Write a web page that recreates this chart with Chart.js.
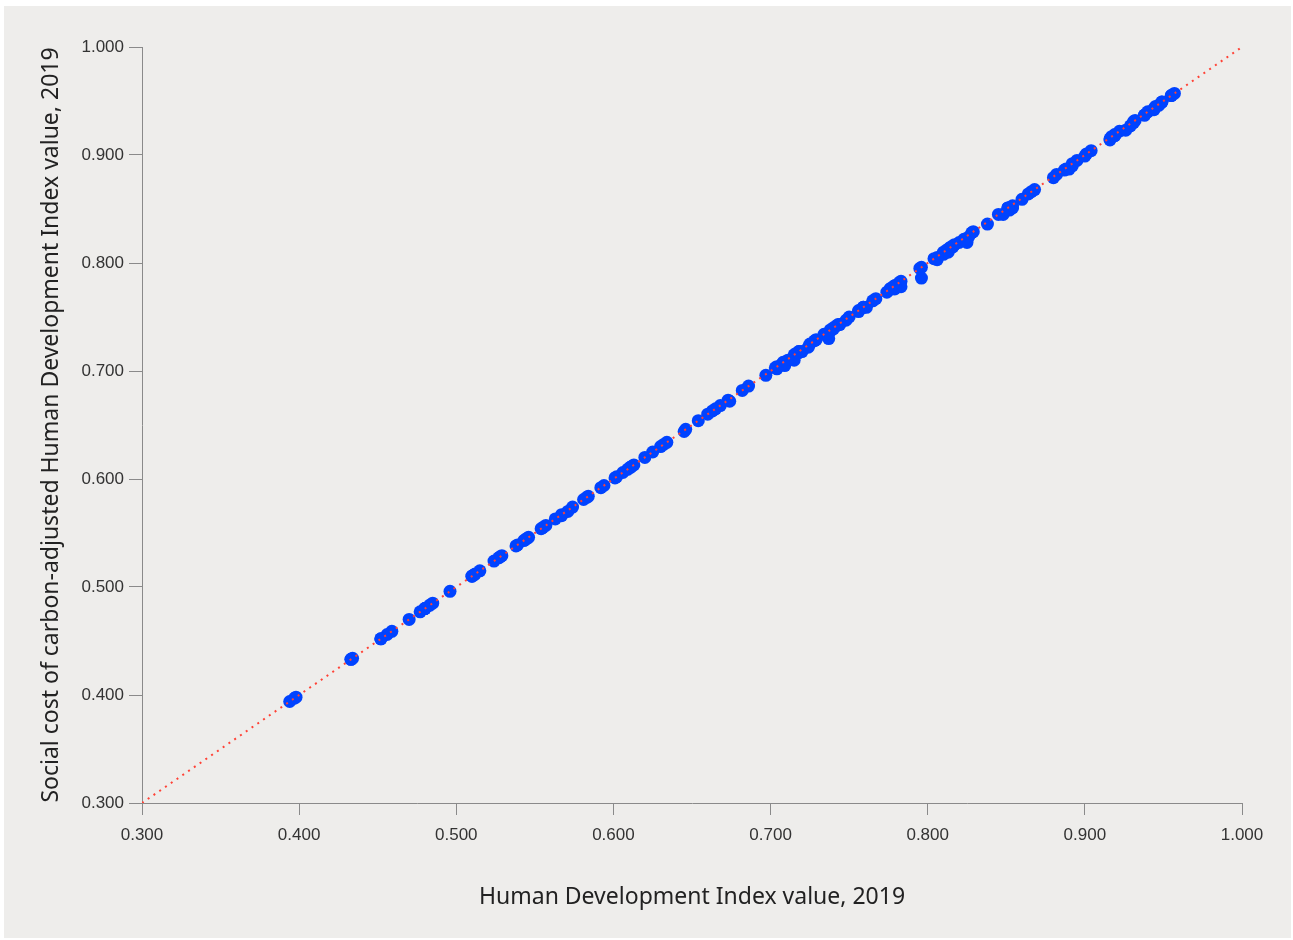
<!DOCTYPE html>
<html>
<head>
<meta charset="utf-8">
<script src="https://cdn.jsdelivr.net/npm/chart.js@4"></script>
<style>
  body { margin: 0; background: #ffffff; }
  #panel { position: absolute; left: 4px; top: 6px; width: 1287px; height: 932px; background: #eeedeb; }
  canvas { display: block; }
</style>
</head>
<body>
<div id="panel"><canvas id="myChart" width="1287" height="932"></canvas></div>
<script>
const countries = ["Norway","Ireland","Switzerland","Hong Kong, China (SAR)","Iceland","Germany","Sweden","Australia","Netherlands","Denmark",
  "Finland","Singapore","United Kingdom","Belgium","New Zealand","Canada","United States","Austria","Israel","Japan",
  "Liechtenstein","Slovenia","Korea (Republic of)","Luxembourg","Spain","France","Czechia","Malta","Estonia","Italy",
  "United Arab Emirates","Greece","Cyprus","Lithuania","Poland","Andorra","Latvia","Portugal","Slovakia","Hungary",
  "Saudi Arabia","Bahrain","Chile","Croatia","Qatar","Argentina","Brunei Darussalam","Montenegro","Romania","Palau",
  "Kazakhstan","Russian Federation","Belarus","Turkey","Uruguay","Bulgaria","Panama","Bahamas","Barbados","Oman",
  "Georgia","Costa Rica","Malaysia","Kuwait","Serbia","Mauritius","Seychelles","Trinidad and Tobago","Albania","Cuba",
  "Iran (Islamic Republic of)","Sri Lanka","Bosnia and Herzegovina","Grenada","Mexico","Saint Kitts and Nevis","Ukraine","Antigua and Barbuda","Peru","Thailand",
  "Armenia","North Macedonia","Colombia","Brazil","China","Ecuador","Saint Lucia","Azerbaijan","Dominican Republic","Moldova (Republic of)",
  "Algeria","Lebanon","Fiji","Dominica","Maldives","Tunisia","Saint Vincent and the Grenadines","Suriname","Mongolia","Botswana",
  "Jamaica","Jordan","Paraguay","Tonga","Libya","Uzbekistan","Bolivia (Plurinational State of)","Indonesia","Philippines","Belize",
  "Samoa","Turkmenistan","Venezuela (Bolivarian Republic of)","South Africa","Palestine, State of","Egypt","Marshall Islands","Viet Nam","Gabon","Kyrgyzstan",
  "Morocco","Guyana","Iraq","El Salvador","Tajikistan","Cabo Verde","Guatemala","Nicaragua","Bhutan","Namibia",
  "India","Honduras","Bangladesh","Kiribati","Sao Tome and Principe","Micronesia (Federated States of)","Lao People's Democratic Republic","Eswatini (Kingdom of)","Ghana","Vanuatu",
  "Timor-Leste","Nepal","Kenya","Cambodia","Equatorial Guinea","Zambia","Myanmar","Angola","Congo","Zimbabwe",
  "Solomon Islands","Syrian Arab Republic","Cameroon","Pakistan","Papua New Guinea","Comoros","Mauritania","Benin","Uganda","Rwanda",
  "Nigeria","Côte d'Ivoire","Tanzania (United Republic of)","Madagascar","Lesotho","Djibouti","Togo","Senegal","Afghanistan","Haiti",
  "Sudan","Gambia","Ethiopia","Malawi","Congo (Democratic Republic of the)","Guinea-Bissau","Liberia","Guinea","Yemen","Eritrea",
  "Mozambique","Burkina Faso","Sierra Leone","Mali","Burundi","South Sudan","Chad","Central African Republic","Niger"];

const hdiValues = [0.957,0.955,0.955,0.949,0.949,0.947,0.945,0.944,0.944,0.940,
  0.938,0.938,0.932,0.931,0.931,0.929,0.926,0.922,0.919,0.919,
  0.919,0.917,0.916,0.916,0.904,0.901,0.900,0.895,0.892,0.892,
  0.890,0.888,0.887,0.882,0.880,0.868,0.866,0.864,0.860,0.854,
  0.854,0.852,0.851,0.851,0.848,0.845,0.838,0.829,0.828,0.826,
  0.825,0.824,0.823,0.820,0.817,0.816,0.815,0.814,0.814,0.813,
  0.812,0.810,0.810,0.806,0.806,0.804,0.796,0.796,0.795,0.783,
  0.783,0.782,0.780,0.779,0.779,0.779,0.779,0.778,0.777,0.777,
  0.776,0.774,0.767,0.765,0.761,0.759,0.759,0.756,0.756,0.750,
  0.748,0.744,0.743,0.742,0.740,0.740,0.738,0.738,0.737,0.735,
  0.734,0.729,0.728,0.725,0.724,0.720,0.718,0.718,0.718,0.716,
  0.715,0.715,0.711,0.709,0.708,0.707,0.704,0.704,0.703,0.697,
  0.686,0.682,0.674,0.673,0.668,0.665,0.663,0.660,0.654,0.646,
  0.645,0.634,0.632,0.630,0.625,0.620,0.613,0.611,0.611,0.609,
  0.606,0.602,0.601,0.594,0.592,0.584,0.583,0.581,0.574,0.571,
  0.567,0.567,0.563,0.557,0.555,0.554,0.546,0.545,0.544,0.543,
  0.539,0.538,0.529,0.528,0.527,0.524,0.515,0.512,0.511,0.510,
  0.510,0.496,0.485,0.483,0.480,0.480,0.480,0.477,0.470,0.459,
  0.456,0.452,0.452,0.434,0.433,0.433,0.398,0.397,0.394];

const adjustedValues = [0.957,0.955,0.955,0.949,0.949,0.946,0.945,0.942,0.943,0.940,
  0.937,0.937,0.932,0.930,0.931,0.927,0.923,0.922,0.918,0.918,
  0.919,0.917,0.915,0.914,0.904,0.901,0.899,0.895,0.890,0.892,
  0.887,0.887,0.886,0.882,0.879,0.868,0.866,0.864,0.859,0.853,
  0.851,0.849,0.851,0.851,0.845,0.845,0.836,0.829,0.828,0.824,
  0.819,0.821,0.822,0.819,0.817,0.815,0.815,0.813,0.814,0.810,
  0.812,0.810,0.808,0.803,0.805,0.804,0.796,0.786,0.795,0.783,
  0.778,0.782,0.778,0.779,0.778,0.779,0.776,0.777,0.777,0.776,
  0.776,0.773,0.767,0.765,0.759,0.759,0.759,0.755,0.756,0.750,
  0.747,0.743,0.743,0.742,0.740,0.739,0.738,0.737,0.730,0.734,
  0.734,0.729,0.728,0.725,0.722,0.718,0.718,0.717,0.718,0.716,
  0.715,0.710,0.710,0.705,0.708,0.706,0.704,0.702,0.703,0.696,
  0.686,0.682,0.672,0.673,0.668,0.665,0.663,0.660,0.654,0.646,
  0.644,0.634,0.632,0.630,0.625,0.620,0.613,0.611,0.611,0.609,
  0.606,0.602,0.601,0.594,0.592,0.584,0.583,0.581,0.574,0.570,
  0.567,0.566,0.563,0.557,0.555,0.554,0.546,0.545,0.544,0.543,
  0.539,0.538,0.529,0.528,0.527,0.524,0.515,0.512,0.511,0.510,
  0.510,0.496,0.485,0.483,0.480,0.480,0.480,0.477,0.470,0.459,
  0.456,0.452,0.452,0.434,0.433,0.433,0.398,0.397,0.394];

// 45 degree reference line
const equalityLine = [0.3, 1.0];
const axisTicks = [0.3, 0.4, 0.5, 0.6, 0.7, 0.8, 0.9, 1.0];

const ctx = document.getElementById('myChart');

const points = hdiValues.map((x, i) => ({ x: x, y: adjustedValues[i], name: countries[i] }));

const tickFont = { family: "'Liberation Sans', Arial, sans-serif", size: 17 };
const titleFont = { family: "'Noto Sans', sans-serif", size: 23 };

function setTicks(scale) {
  scale.ticks = axisTicks.map(v => ({ value: v }));
}

new Chart(ctx, {
  data: {
    datasets: [{
      type: 'line',
      label: 'Equality',
      data: equalityLine.map(v => ({ x: v, y: v })),
      borderColor: '#ff4236',
      borderWidth: 2,
      borderDash: [2, 5],
      pointRadius: 0,
      fill: false,
      order: 0
    }, {
      type: 'scatter',
      label: 'Countries',
      data: points,
      backgroundColor: '#0043ff',
      borderWidth: 0,
      pointRadius: 6.5,
      pointHoverRadius: 7,
      order: 1
    }]
  },
  options: {
    responsive: false,
    animation: false,
    layout: { padding: { left: 0, top: 41, right: 49, bottom: 0 } },
    plugins: {
      legend: { display: false },
      tooltip: {
        callbacks: {
          label: c => (c.raw.name ? c.raw.name + ': ' : '') + c.raw.x.toFixed(3) + ', ' + c.raw.y.toFixed(3)
        }
      }
    },
    scales: {
      x: {
        type: 'linear',
        min: 0.3,
        max: 1.0,
        afterBuildTicks: setTicks,
        afterFit: s => { s.height = 135; },
        border: { display: true, color: '#8a8a8a', width: 1 },
        grid: { display: true, drawOnChartArea: false, drawTicks: true, tickLength: 12, color: '#8a8a8a' },
        ticks: {
          color: '#333333',
          font: tickFont,
          padding: 10,
          maxRotation: 0,
          callback: v => Number(v).toFixed(3)
        },
        title: {
          display: true,
          text: 'Human Development Index value, 2019',
          color: '#222222',
          font: titleFont,
          padding: { top: 0, bottom: 27 }
        }
      },
      y: {
        type: 'linear',
        min: 0.3,
        max: 1.0,
        afterBuildTicks: setTicks,
        afterFit: s => { s.width = 138; },
        border: { display: true, color: '#8a8a8a', width: 1 },
        grid: { display: true, drawOnChartArea: false, drawTicks: true, tickLength: 13, color: '#8a8a8a' },
        ticks: {
          color: '#333333',
          font: tickFont,
          padding: 5,
          callback: v => Number(v).toFixed(3)
        },
        title: {
          display: true,
          text: 'Social cost of carbon-adjusted Human Development Index value, 2019',
          color: '#222222',
          font: titleFont,
          padding: { top: 34, bottom: 0 }
        }
      }
    }
  }
});
</script>
</body>
</html>
